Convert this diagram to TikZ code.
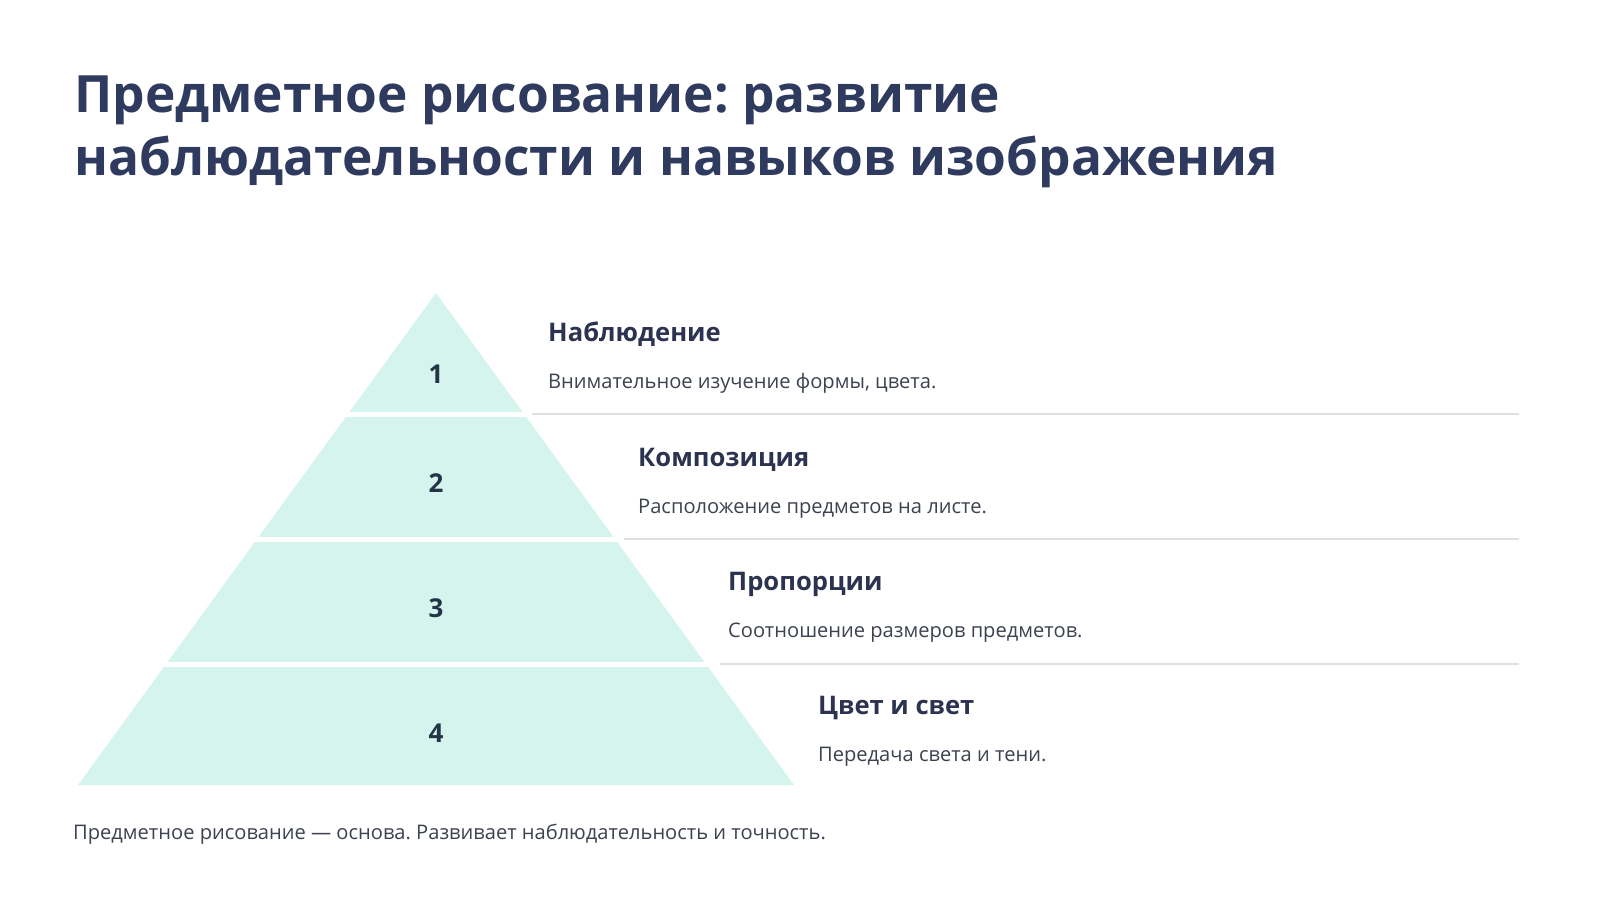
\documentclass[tikz,border=0pt]{standalone}
\usepackage{fontspec}
\setmainfont{Open Sans}
\frenchspacing
\definecolor{titlec}{HTML}{2F3A5F}
\definecolor{headc}{HTML}{2B3350}
\definecolor{descc}{HTML}{3D4250}
\definecolor{numc}{HTML}{243447}
\definecolor{mint}{HTML}{D5F4ED}
\definecolor{sepc}{HTML}{DDE1E5}
\tikzset{
  txt/.style={inner sep=0pt, anchor=base west},
  titletxt/.style={txt, text=titlec, font=\fontsize{51.4}{63}\selectfont\bfseries},
  headtxt/.style={txt, text=headc, font=\fontsize{25.6}{32}\selectfont\bfseries},
  desctxt/.style={txt, text=descc, font=\fontsize{20.1}{25}\selectfont},
  numtxt/.style={inner sep=0pt, anchor=base, text=numc, font=\fontsize{26}{32}\selectfont\bfseries},
  foottxt/.style={txt, text=descc, font=\fontsize{20.1}{25}\selectfont},
  sepline/.style={draw=sepc, line width=1.3pt},
  gapline/.style={draw=white, line width=4.5pt}
}
\begin{document}
\begin{tikzpicture}[x=1pt,y=-1pt]
\useasboundingbox[fill=white] (0,0) rectangle (1600,900);
% title
\node[titletxt] (t1) at (74,112) {Предметное рисование: развитие};
\node[titletxt] (t2) at (74,175) {наблюдательности и навыков изображения};
% pyramid
\fill[mint] (436,293) -- (794,785) -- (78,785) -- cycle;
\draw[gapline] (300,414.5) -- (600,414.5);
\draw[gapline] (200,539.5) -- (700,539.5);
\draw[gapline] (100,664.5) -- (800,664.5);
\node[numtxt] (n1) at (436,383) {1};
\node[numtxt] (n2) at (436,492) {2};
\node[numtxt] (n3) at (436,617) {3};
\node[numtxt] (n4) at (436,742) {4};
% separators
\coordinate (s1a) at (532,414);  \coordinate (s1b) at (1519,414);
\coordinate (s2a) at (624,539);  \coordinate (s2b) at (1519,539);
\coordinate (s3a) at (720,664);  \coordinate (s3b) at (1519,664);
\draw[sepline] (s1a) -- (s1b);
\draw[sepline] (s2a) -- (s2b);
\draw[sepline] (s3a) -- (s3b);
% labels
\node[headtxt] (h1) at (548,341) {Наблюдение};
\node[desctxt] (d1) at (548,388) {Внимательное изучение формы, цвета.};
\node[headtxt] (h2) at (638,466) {Композиция};
\node[desctxt] (d2) at (638,513) {Расположение предметов на листе.};
\node[headtxt] (h3) at (728,590) {Пропорции};
\node[desctxt] (d3) at (728,637) {Соотношение размеров предметов.};
\node[headtxt] (h4) at (818,714) {Цвет и свет};
\node[desctxt] (d4) at (818,761) {Передача света и тени.};
% footer
\node[foottxt] (f) at (73,839) {Предметное рисование — основа. Развивает наблюдательность и точность.};
\end{tikzpicture}
\end{document}
